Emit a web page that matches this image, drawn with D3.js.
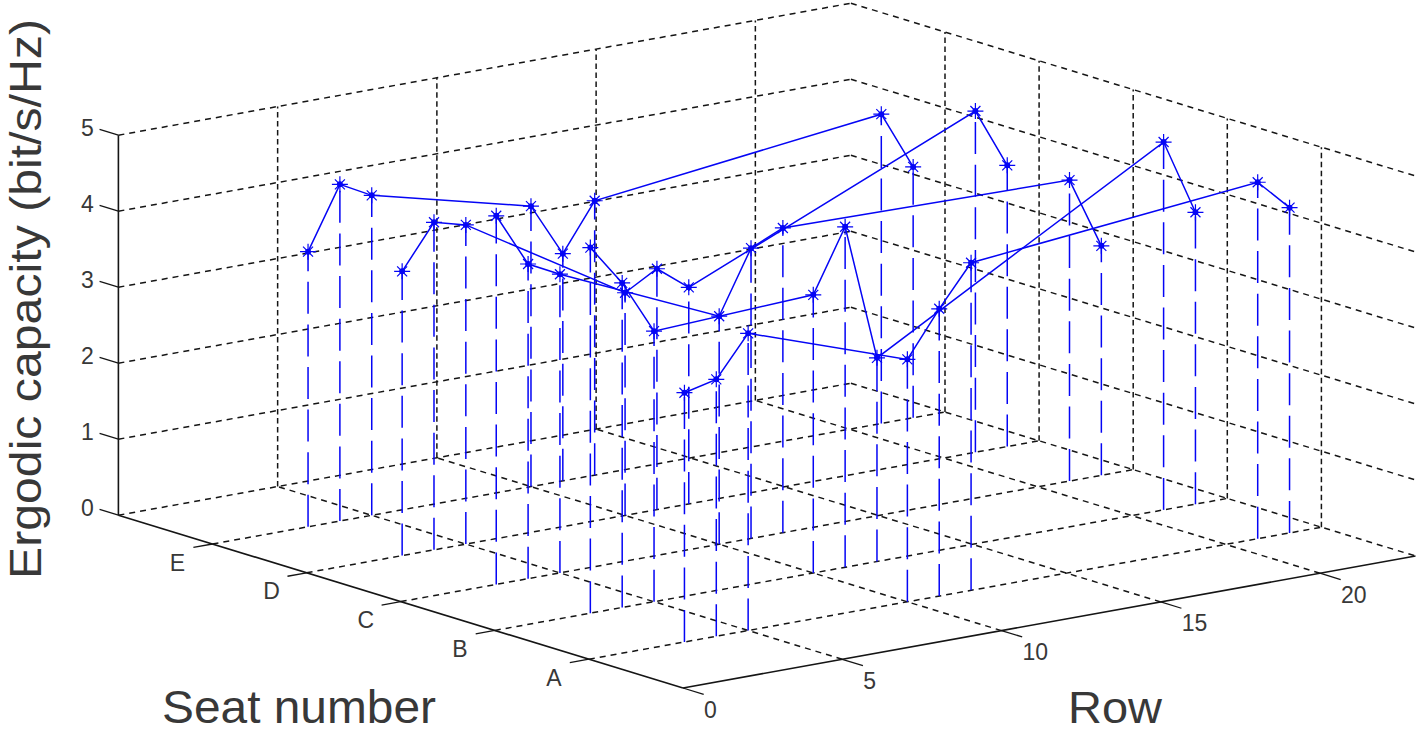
<!DOCTYPE html>
<html><head><meta charset="utf-8">
<script src="https://cdn.jsdelivr.net/npm/d3@7"></script>
<style>html,body{margin:0;padding:0;background:#fff;overflow:hidden}svg{display:block}
text{font-family:"Liberation Sans",Arial,sans-serif;fill:#383838}</style></head><body>
<script>
const rows=[3,4,5,10,11,12,21,22];
const seatE=[3.62,4.43,4.21,3.69,2.99,3.61,4.07,3.30];
const seatD=[3.74,4.31,4.20,2.93,3.17,2.85,4.49,3.70];
const seatC=[4.85,4.14,3.93,3.00,3.82,4.01,3.96,3.02];
const seatB=[4.81,4.27,3.56,3.66,4.48,2.68,4.84,3.84];
const seatA=[3.28,3.38,3.91,3.19,3.78,4.31,4.69,4.28];
const seatLabels=["A","B","C","D","E"];
const rowTicks=[0,5,10,15,20];
const zTicks=[0,1,2,3,4,5];
const series=[[5,seatE],[4,seatD],[3,seatC],[2,seatB],[1,seatA]];
const rowMax=23,seatMax=6,zMax=5;

const W=1418,H=733;
const svg=d3.select("body").append("svg").attr("width",W).attr("height",H);
// oblique projection: each data axis contributes a screen offset
const rx=d3.scaleLinear([0,rowMax],[0,732.5]), ry=d3.scaleLinear([0,rowMax],[0,-132]);
const sx=d3.scaleLinear([0,seatMax],[0,-564.6]), sy=d3.scaleLinear([0,seatMax],[0,-172.8]);
const zy=d3.scaleLinear([0,zMax],[0,-380]);
const P=(r,s,z)=>[683+rx(r)+sx(s),688+ry(r)+sy(s)+zy(z)];
const line=d3.line();

function seg(g,a,b,cls){return g.append("path").attr("d",line([a,b])).attr("fill","none").attr("stroke","#151515").attr("stroke-width",cls.w).attr("stroke-dasharray",cls.d||null);}
const grid=svg.append("g");
const dash={w:1.5,d:"6 5"}, vdash={w:1.5,d:"5.5 3.5"}, solid={w:1.6}, tick={w:1.3};
const seatGrid=d3.range(1,seatMax);
const rowGrid=rowTicks.filter(d=>d>0);
// floor
rowGrid.forEach(r=>seg(grid,P(r,0,0),P(r,seatMax,0),dash));
seatGrid.forEach(s=>seg(grid,P(0,s,0),P(rowMax,s,0),dash));
// back walls
zTicks.forEach(z=>{seg(grid,P(0,seatMax,z),P(rowMax,seatMax,z),dash);seg(grid,P(rowMax,seatMax,z),P(rowMax,0,z),dash);});
rowGrid.forEach(r=>seg(grid,P(r,seatMax,0),P(r,seatMax,zMax),vdash));
seatGrid.forEach(s=>seg(grid,P(rowMax,s,0),P(rowMax,s,zMax),vdash));
// axes
seg(grid,P(0,seatMax,0),P(0,seatMax,zMax),solid);
seg(grid,P(0,seatMax,0),P(0,0,0),solid);
seg(grid,P(0,0,0),P(rowMax,0,0),solid);
// ticks
zTicks.forEach(z=>seg(grid,P(0,seatMax,z),P(0,seatMax+0.2,z),tick));
seatGrid.forEach(s=>seg(grid,P(0,s,0),P(-0.6,s,0),tick));
rowTicks.forEach(r=>seg(grid,P(r,0,0),P(r,-0.22,0),tick));

// tick labels
const lab=svg.append("g").attr("font-size",23);
const tx=(a,dx,dy,t,anchor)=>lab.append("text").attr("x",a[0]+dx).attr("y",a[1]+dy).attr("text-anchor",anchor).text(t);
zTicks.forEach(z=>tx(P(0,seatMax,z),-31,0.5,z,"middle"));
seatLabels.forEach((t,i)=>tx(P(0,i+1,0),-35,26.5,t,"middle"));
rowTicks.forEach(r=>tx(P(r,0,0),21,29.5,r,"start"));

// titles
svg.append("text").attr("font-size",44).attr("textLength",560).attr("lengthAdjust","spacingAndGlyphs")
 .attr("transform","translate(40.5,579) rotate(-90)").text("Ergodic capacity (bit/s/Hz)");
svg.append("text").attr("font-size",46).attr("x",162).attr("y",723).attr("textLength",274).attr("lengthAdjust","spacingAndGlyphs").text("Seat number");
svg.append("text").attr("font-size",45).attr("x",1068).attr("y",723).attr("textLength",94).attr("lengthAdjust","spacingAndGlyphs").text("Row");

// data
const blue="#0505f5";
const data=svg.append("g");
series.forEach(([s,vals])=>{
  rows.forEach((r,i)=>{
    data.append("path").attr("d",line([P(r,s,0),P(r,s,vals[i])])).attr("fill","none")
      .attr("stroke",blue).attr("stroke-width",1.5).attr("stroke-dasharray","32 10.6");
  });
});
series.forEach(([s,vals])=>{
  data.append("path").attr("d",line(rows.map((r,i)=>P(r,s,vals[i])))).attr("fill","none")
    .attr("stroke",blue).attr("stroke-width",1.5);
});
const star={draw(c){const a=8,b=5;c.moveTo(-a,0);c.lineTo(a,0);c.moveTo(0,-a);c.lineTo(0,a);c.moveTo(-b,-b);c.lineTo(b,b);c.moveTo(-b,b);c.lineTo(b,-b);}};
const starPath=d3.symbol(star)();
series.forEach(([s,vals])=>{
  rows.forEach((r,i)=>{
    const p=P(r,s,vals[i]);
    data.append("path").attr("d",starPath).attr("transform",`translate(${p})`).attr("fill","none").attr("stroke",blue).attr("stroke-width",1.2);
    data.append("circle").attr("cx",p[0]).attr("cy",p[1]).attr("r",3).attr("fill",blue);
  });
});
</script></body></html>
